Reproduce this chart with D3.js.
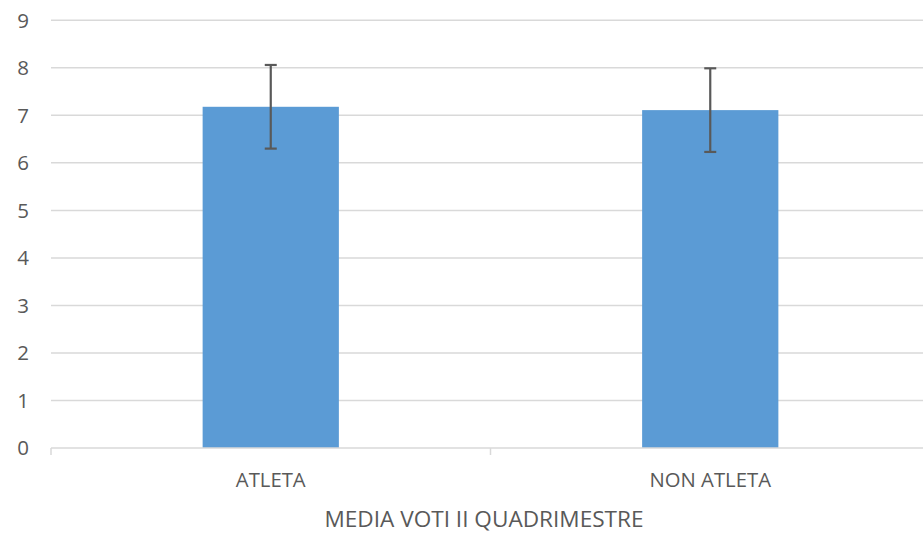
<!DOCTYPE html>
<html><head><meta charset="utf-8">
<script src="https://cdn.jsdelivr.net/npm/d3@7"></script>
<style>body{margin:0;background:#fff}svg{display:block}text{font-family:"Open Sans",sans-serif;fill:#595959}</style>
</head><body>
<script>
const categories = ["ATLETA", "NON ATLETA"];
const means = [7.18, 7.11];
const errors = [0.88, 0.88];
const yTicks = [0,1,2,3,4,5,6,7,8,9];
const axisTitle = "MEDIA VOTI II QUADRIMESTRE";

const W = 923, H = 533;
const svg = d3.select("body").append("svg").attr("width", W).attr("height", H);
const x = d3.scaleBand().domain(categories).range([51, 930]).paddingInner(0).paddingOuter(0);
const y = d3.scaleLinear().domain([0, 9]).range([448, 20.3]);

// gridlines
svg.append("g").selectAll("line").data(yTicks.filter(d=>d>0)).join("line")
  .attr("x1", 51).attr("x2", W).attr("y1", d=>y(d)).attr("y2", d=>y(d))
  .attr("stroke", "#d9d9d9").attr("stroke-width", 1.5);

// y labels
svg.append("g").selectAll("text").data(yTicks).join("text")
  .attr("x", 29).attr("y", d=>y(d)).attr("dy", "0.36em").attr("text-anchor", "end")
  .attr("font-size", 20.5).text(d=>d);

const bw = x.bandwidth()*0.31;
// bars
svg.append("g").selectAll("rect").data(categories).join("rect")
  .attr("x", (d)=>x(d)+x.bandwidth()/2-bw/2).attr("width", bw)
  .attr("y", (d,i)=>y(means[i])).attr("height", (d,i)=>y(0)-y(means[i]))
  .attr("fill", "#5b9bd5");

// x axis line and ticks
svg.append("line").attr("x1", 51).attr("x2", W).attr("y1", y(0)).attr("y2", y(0)).attr("stroke", "#d9d9d9").attr("stroke-width", 1.5);
svg.append("g").selectAll("line").data([...categories.map(c=>x(c)), x.range()[1]]).join("line")
  .attr("x1", d=>d).attr("x2", d=>d).attr("y1", y(0)).attr("y2", y(0)+7)
  .attr("stroke", "#d9d9d9").attr("stroke-width", 1.5);

// error bars
const eb = svg.append("g").attr("stroke", "#595959").attr("stroke-width", 2.2);
categories.forEach((c,i)=>{
  const cx = x(c)+x.bandwidth()/2;
  eb.append("line").attr("x1", cx).attr("x2", cx).attr("y1", y(means[i]+errors[i])).attr("y2", y(means[i]-errors[i]));
  [means[i]+errors[i], means[i]-errors[i]].forEach(v=>{
    eb.append("line").attr("x1", cx-6).attr("x2", cx+6).attr("y1", y(v)).attr("y2", y(v));
  });
});

// category labels
svg.append("g").selectAll("text").data(categories).join("text")
  .attr("x", d=>x(d)+x.bandwidth()/2).attr("y", 487).attr("text-anchor", "middle")
  .attr("font-size", 20.3).text(d=>d);

svg.append("text").attr("x", 484).attr("y", 526.5).attr("text-anchor", "middle")
  .attr("font-size", 22.6).text(axisTitle);
</script>
</body></html>
